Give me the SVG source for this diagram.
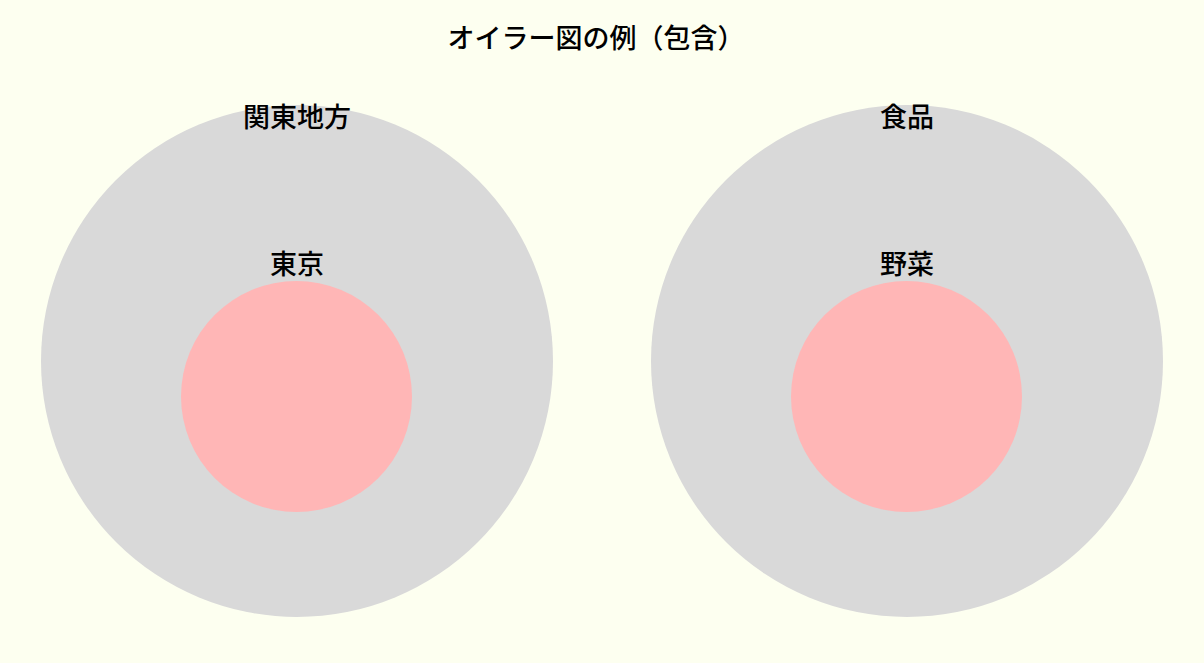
<svg xmlns="http://www.w3.org/2000/svg" width="1204" height="663" viewBox="0 0 1204 663">
<style>
text{font-family:"Noto Sans CJK JP","Noto Sans CJK SC",sans-serif;fill:#000;text-anchor:middle;font-weight:500}
.t{font-size:27px}
.l{font-size:27px}
.outer{fill:#d9d9d9}
.inner{fill:#ffb6b6}
</style>
<rect width="1204" height="663" fill="#fdfff0"/>
<text class="t" x="596" y="48">オイラー図の例（包含）</text>
<g id="kanto">
<circle class="outer" cx="297" cy="361" r="256"/>
<text class="l" x="297" y="127">関東地方</text>
</g>
<g id="tokyo">
<circle class="inner" cx="296.5" cy="396.5" r="115.5"/>
<text class="l" x="297" y="274">東京</text>
</g>
<g id="food">
<circle class="outer" cx="907" cy="361" r="256"/>
<text class="l" x="907" y="127">食品</text>
</g>
<g id="vegetable">
<circle class="inner" cx="906.5" cy="396.5" r="115.5"/>
<text class="l" x="907" y="274">野菜</text>
</g>
<g id="connectors"/>
</svg>
